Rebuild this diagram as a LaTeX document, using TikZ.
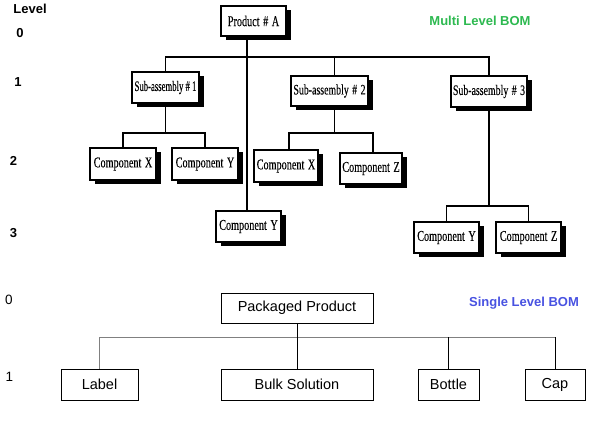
\documentclass[tikz,border=0pt]{standalone}
\usepackage{fontspec}
\setmainfont{Liberation Serif}
\newfontfamily\scanfont[FakeStretch=0.68,FakeBold=0.1,WordSpace=1.4]{Liberation Serif}
\newfontfamily\scanfontnarrow[FakeStretch=0.6,FakeBold=0.1]{Liberation Serif}
\newfontfamily\arialfont{Liberation Sans}
\usetikzlibrary{shadows}
\definecolor{bomgreen}{RGB}{45,185,80}
\definecolor{bomblue}{RGB}{72,82,225}
\begin{document}
\begin{tikzpicture}[x=1pt,y=-1pt,
  oldbox/.style={draw, line width=1.4pt, fill=white, inner sep=0pt, minimum height=31pt,
    font=\scanfont\fontsize{15}{17}\selectfont,
    drop shadow={shadow xshift=4.5pt, shadow yshift=-4.5pt, fill=black, opacity=1}},
  subfont/.style={font=\scanfont\fontsize{14.5}{16}\selectfont},
  oldline/.style={line width=1.3pt},
  newbox/.style={draw, line width=0.8pt, fill=white, inner sep=0pt, minimum height=31pt,
    font=\arialfont\fontsize{14.5}{16}\selectfont},
  newline/.style={line width=0.8pt},
  lvl/.style={font=\arialfont\bfseries\fontsize{13}{15}\selectfont},
  lvlb/.style={font=\arialfont\fontsize{13.5}{15}\selectfont},
  bomtitle/.style={font=\arialfont\bfseries\fontsize{13}{15}\selectfont}]
\useasboundingbox (0,0) rectangle (600,427);

% ---------- Multi level BOM ----------
\node[lvl] (lev) at (30,9) {Level};
\node[lvl] (l0) at (20,33) {0};
\node[lvl] (l1) at (18,82) {1};
\node[lvl] (l2) at (13.5,161) {2};
\node[lvl] (l3) at (13.5,233) {3};
\node[bomtitle, text=bomgreen] (t1) at (480,21) {Multi Level BOM};

\coordinate (h0) at (247,57);
\coordinate (h1) at (0,133);
\coordinate (h3) at (0,206);

\node[oldbox, minimum width=65pt, minimum height=30pt] (pa) at (253.5,21) {Product \# A};
\node[oldbox, minimum width=67pt, font=\scanfontnarrow\fontsize{14.5}{16}\selectfont] (s1) at (165.5,87.5) {Sub-assembly \# 1};
\node[oldbox, subfont, minimum width=77pt, minimum height=30pt] (s2) at (329.5,91) {Sub-assembly \# 2};
\node[oldbox, subfont, minimum width=76pt] (s3) at (489,91.5) {Sub-assembly \# 3};
\node[oldbox, minimum width=66pt, minimum height=32pt] (c1x) at (123,164) {Component X};
\node[oldbox, minimum width=66pt, minimum height=32pt] (c1y) at (205,164) {Component Y};
\node[oldbox, minimum width=64pt, minimum height=32pt] (c2x) at (286,166) {Component X};
\node[oldbox, minimum width=62pt] (c2z) at (371,168.5) {Component Z};
\node[oldbox, minimum width=65pt] (cy) at (248.5,226.5) {Component Y};
\node[oldbox, minimum width=65pt] (c3y) at (446.5,237.5) {Component Y};
\node[oldbox, minimum width=65pt] (c3z) at (528.5,237.5) {Component Z};

\draw[oldline] (pa.south -| h0) -- (cy.north -| h0);
\draw[oldline] (s1.north) -- (s1.north |- h0) -- (s3.north |- h0) -- (s3.north);
\draw[oldline] ([xshift=5pt]s2.north) -- ([xshift=5pt]s2.north |- h0);
\draw[oldline] (s1.south) -- (s1.south |- h1);
\draw[oldline] (c1x.north) -- (c1x.north |- h1) -- (c1y.north |- h1) -- (c1y.north);
\draw[oldline] ([xshift=5pt]s2.south) -- ([xshift=5pt]s2.south |- h1);
\draw[oldline] ([xshift=3pt]c2x.north) -- ([xshift=3pt]c2x.north |- h1) -- ([xshift=2pt]c2z.north |- h1) -- ([xshift=2pt]c2z.north);
\draw[oldline] (s3.south) -- (s3.south |- h3);
\draw[oldline] (c3y.north) -- (c3y.north |- h3) -- (c3z.north |- h3) -- (c3z.north);

% ---------- Single level BOM ----------
\node[lvlb] (b0) at (9,300) {0};
\node[lvlb] (b1) at (9.5,377) {1};
\node[bomtitle, text=bomblue] (t2) at (524,303) {Single Level BOM};

\coordinate (hb) at (0,337.5);
\node[newbox, minimum width=152pt, minimum height=30pt] (pp) at (297,308) {Packaged Product};
\node[newbox, minimum width=77pt] (lab) at (99.5,384.5) {Label};
\node[newbox, minimum width=152pt] (bulk) at (297,384.5) {Bulk Solution};
\node[newbox, minimum width=61pt] (bot) at (448.5,384.5) {Bottle};
\node[newbox, minimum width=60pt] (cap) at (555,384.5) {Cap};

\draw[newline, gray] (lab.north |- hb) -- (cap.north |- hb);
\draw[newline, gray] (lab.north) -- (lab.north |- hb);
\draw[newline] (pp.south) -- (bulk.north);
\draw[newline] (bot.north) -- (bot.north |- hb);
\draw[newline] (cap.north) -- (cap.north |- hb);
\end{tikzpicture}
\end{document}
